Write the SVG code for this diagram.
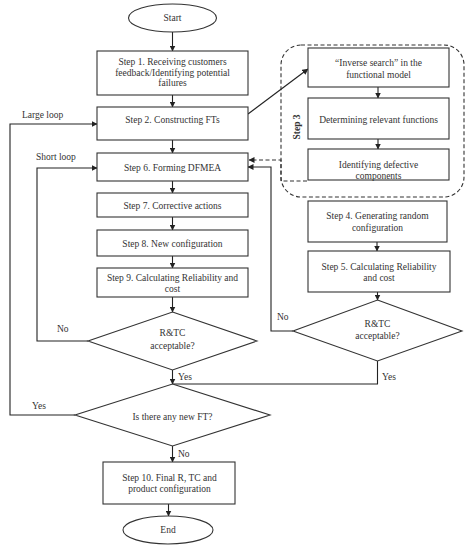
<svg xmlns="http://www.w3.org/2000/svg" width="474" height="548" viewBox="0 0 474 548">
<defs>
<marker id="ah" markerWidth="6" markerHeight="6" refX="5.5" refY="3" orient="auto" markerUnits="userSpaceOnUse">
<path d="M0,0 L6,3 L0,6 Z" fill="#222"/>
</marker>
<style>
.box{fill:#fff;stroke:#333;stroke-width:1.1}
.t{font-family:"Liberation Serif","Times New Roman",serif;font-size:9.5px;fill:#333;text-anchor:middle}
.l{font-family:"Liberation Serif","Times New Roman",serif;font-size:9.5px;fill:#333}
.c{fill:none;stroke:#222;stroke-width:1.1}
.d{fill:none;stroke:#333;stroke-width:1.1;stroke-dasharray:4,2.5}
</style>
</defs>
<rect width="474" height="548" fill="#fff"/>

<g id="connectors">
<path class="c" d="M172.5,32 V51" marker-end="url(#ah)"/>
<path class="c" d="M172.5,95 V107" marker-end="url(#ah)"/>
<path class="c" d="M172.5,140 V153" marker-end="url(#ah)"/>
<path class="c" d="M172.5,181 V193" marker-end="url(#ah)"/>
<path class="c" d="M172.5,217 V230" marker-end="url(#ah)"/>
<path class="c" d="M172.5,256 V268" marker-end="url(#ah)"/>
<path class="c" d="M172.5,297 V312" marker-end="url(#ah)"/>
<path class="c" d="M88,341 H37 V168 H97" marker-end="url(#ah)"/>
<path class="c" d="M172.5,370 V384" marker-end="url(#ah)"/>
<path class="c" d="M377.5,361 V384 H173"/>
<path class="c" d="M75,415 H10 V124 H97" marker-end="url(#ah)"/>
<path class="c" d="M172.5,446 V462" marker-end="url(#ah)"/>
<path class="c" d="M168.5,504 V516" marker-end="url(#ah)"/>
<path class="c" d="M248,114 L308,69" marker-end="url(#ah)"/>
<path class="c" d="M378,87 V98" marker-end="url(#ah)"/>
<path class="c" d="M378,139 V149" marker-end="url(#ah)"/>
<path class="d" d="M307,181 H281 V160 H249" marker-end="url(#ah)"/>
<path class="c" d="M377,242 V251" marker-end="url(#ah)"/>
<path class="c" d="M377.5,292 V300" marker-end="url(#ah)"/>
<path class="c" d="M293,331 H271 V167 H248" marker-end="url(#ah)"/>
</g>

<g id="step3">
<rect x="281" y="45" width="183" height="152" rx="20" class="d"/>
<text transform="translate(300,127) rotate(-90)" class="t" font-weight="bold">Step 3</text>
</g>

<g id="start">
<ellipse cx="172.5" cy="18" rx="44" ry="14" class="box"/>
<text x="172.5" y="21" class="t">Start</text>
</g>
<g id="step1">
<rect x="97" y="51" width="151" height="44" class="box"/>
<text x="172.5" y="65" class="t">Step 1. Receiving customers</text>
<text x="172.5" y="75.5" class="t">feedback/Identifying potential</text>
<text x="172.5" y="86" class="t">failures</text>
</g>
<g id="step2">
<rect x="97" y="107" width="151" height="33" class="box"/>
<text x="172.5" y="123" class="t">Step 2. Constructing FTs</text>
</g>
<g id="step6">
<rect x="97" y="153" width="151" height="28" class="box"/>
<text x="172.5" y="171" class="t">Step 6. Forming DFMEA</text>
</g>
<g id="step7">
<rect x="97" y="193" width="151" height="24" class="box"/>
<text x="172.5" y="209" class="t">Step 7. Corrective actions</text>
</g>
<g id="step8">
<rect x="97" y="230" width="151" height="26" class="box"/>
<text x="172.5" y="247" class="t">Step 8. New configuration</text>
</g>
<g id="step9">
<rect x="97" y="268" width="151" height="29" class="box"/>
<text x="172.5" y="281" class="t">Step 9. Calculating Reliability and</text>
<text x="172.5" y="292" class="t">cost</text>
</g>
<g id="decision1">
<polygon points="172.5,312 257,341 172.5,370 88,341" class="box"/>
<text x="172.5" y="336" class="t">R&amp;TC</text>
<text x="172.5" y="349" class="t">acceptable?</text>
</g>
<g id="decision2">
<polygon points="172.5,384 270,415 172.5,446 75,415" class="box"/>
<text x="172.5" y="420" class="t">Is there any new FT?</text>
</g>
<g id="step10">
<rect x="103" y="462" width="132" height="42" class="box"/>
<text x="169.5" y="481" class="t">Step 10. Final R, TC and</text>
<text x="169.5" y="492" class="t">product configuration</text>
</g>
<g id="end">
<ellipse cx="168" cy="530" rx="45" ry="14" class="box"/>
<text x="168" y="533" class="t">End</text>
</g>
<g id="inverse">
<rect x="308" y="48" width="141" height="39" class="box"/>
<text x="378.5" y="66" class="t">“Inverse search” in the</text>
<text x="378.5" y="78" class="t">functional model</text>
</g>
<g id="determining">
<rect x="308" y="98" width="141" height="41" class="box"/>
<text x="378.5" y="123" class="t">Determining relevant functions</text>
</g>
<g id="identifying">
<rect x="308" y="149" width="141" height="31" class="box"/>
<text x="378.5" y="168" class="t">Identifying defective</text>
<text x="378.5" y="179" class="t">components</text>
</g>
<g id="step4">
<rect x="308" y="201" width="139" height="41" class="box"/>
<text x="377.5" y="219" class="t">Step 4. Generating random</text>
<text x="377.5" y="231" class="t">configuration</text>
</g>
<g id="step5">
<rect x="308" y="251" width="142" height="41" class="box"/>
<text x="379" y="270" class="t">Step 5. Calculating Reliability</text>
<text x="379" y="281" class="t">and cost</text>
</g>
<g id="decision3">
<polygon points="377.5,300 462,331 377.5,361 293,331" class="box"/>
<text x="377.5" y="327" class="t">R&amp;TC</text>
<text x="377.5" y="339" class="t">acceptable?</text>
</g>

<g id="labels">
<text x="22" y="118" class="l">Large loop</text>
<text x="36" y="160" class="l">Short loop</text>
<text x="57" y="332" class="l">No</text>
<text x="178" y="380" class="l">Yes</text>
<text x="32" y="409" class="l">Yes</text>
<text x="277" y="320" class="l">No</text>
<text x="382" y="380" class="l">Yes</text>
<text x="178" y="457" class="l">No</text>
</g>
</svg>
